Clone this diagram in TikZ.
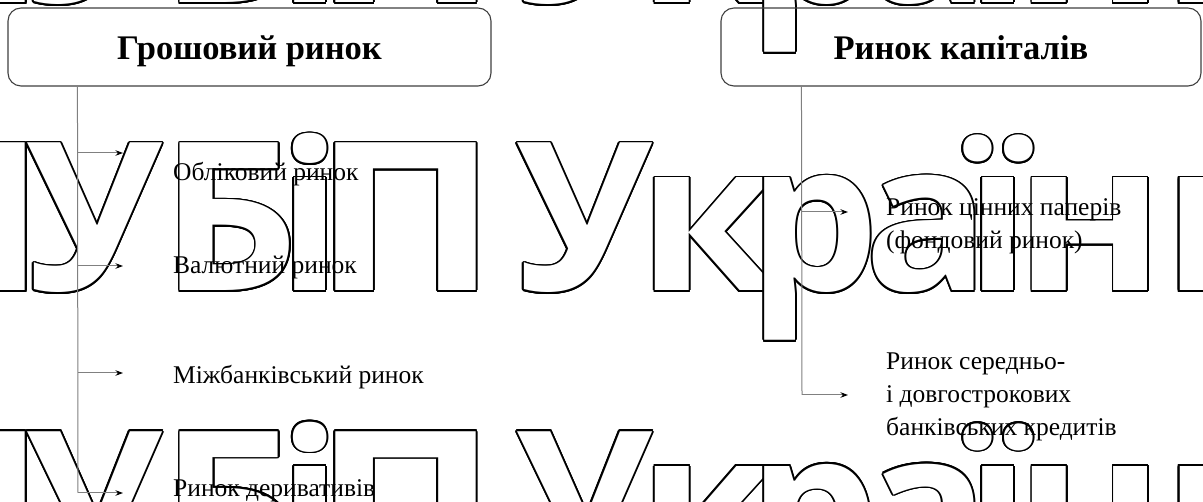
\documentclass[tikz,border=0pt]{standalone}
\usepackage{fontspec}
\usepackage{graphicx}
\setmainfont{Liberation Serif}
\newfontfamily\wmfont{Open Sans}
\usetikzlibrary{arrows.meta,calc}
\tikzset{
  wm/.style={inner sep=0pt, anchor=base, font=\wmfont\bfseries\fontsize{207}{207}\selectfont},
  titlebox/.style={draw=black!75, line width=1.1pt, rounded corners=13pt, inner sep=0pt,
    text height=32pt, text depth=6pt, font=\bfseries\fontsize{34.5}{40}\selectfont},
  lbl/.style={inner sep=0pt, anchor=base west, font=\fontsize{25.5}{33}\selectfont},
  mlbl/.style={inner sep=0pt, anchor=west, align=left, font=\fontsize{25.5}{33}\selectfont},
  conn/.style={draw=black!50, line width=1pt},
  arr/.style={conn, -{Stealth[length=7.5pt,width=5.5pt,color=black]}}
}
\newcommand\wmch[4]{%
  \foreach \a in {0,22.5,...,337.5}{\node[wm,text=black] at ([shift={(\a:1.6)}]#1,#2) {\scalebox{#3}[1]{#4}};}
  \node[wm,text=white] at (#1,#2) {\scalebox{#3}[1]{#4}};}
\begin{document}
\begin{tikzpicture}[x=1pt,y=-1pt]
\useasboundingbox (0,0) rectangle (1203,502);
\fill[white] (0,0) rectangle (1203,502);
% watermark
\foreach \r in {3,291,579}{
  \foreach \x/\s/\c in {-41/1.1/Н,95/1.0/У,230/1.05/Б,310/1.0/і,406/1.2/П,585/1.0/У,708/1.1/к,814/1.0/р,927/1.0/а,998/1.0/ї,1090/1.1/н,1244/1.1/и}{
    \wmch{\x}{\r}{\s}{\c}
  }
}
% boxes
\node[titlebox, minimum width=483pt, minimum height=78pt] (lbox) at (249.5,47) {Грошовий ринок};
\node[titlebox, minimum width=480pt, minimum height=78pt] (rbox) at (961,47) {Ринок капіталів};
% left column
\coordinate (lt) at ($(lbox.south west)+(70,0)$);
\coordinate (lb1) at (78,153);
\coordinate (lb2) at (78,266);
\coordinate (lb3) at (78,373);
\coordinate (lb4) at (78,493);
\coordinate (la1) at (123,153);
\coordinate (la2) at (123,266);
\coordinate (la3) at (123,373);
\coordinate (la4) at (123,493);
\draw[conn] (lt) -- (lb4);
\foreach \i in {1,2,3,4}{\draw[arr] (lb\i) -- (la\i);}
\node[lbl] (t1) at (173,181) {Обліковий ринок};
\node[lbl] (t2) at (173,274) {Валютний ринок};
\node[lbl] (t3) at (173,384) {Міжбанківський ринок};
\node[lbl] (t4) at (173,497) {Ринок деривативів};
% right column
\coordinate (rt) at ($(rbox.south west)+(81,0)$);
\coordinate (rb1) at (802,212);
\coordinate (rb2) at (802,395);
\coordinate (ra1) at (848,212);
\coordinate (ra2) at (848,395);
\draw[conn] (rt) -- (rb2);
\draw[arr] (rb1) -- (ra1);
\draw[arr] (rb2) -- (ra2);
\node[mlbl] (t5) at (886,226) {Ринок цінних паперів\\(фондовий ринок)};
\node[mlbl] (t6) at (886,397) {Ринок середньо-\\і довгострокових\\банківських кредитів};
\end{tikzpicture}
\end{document}
